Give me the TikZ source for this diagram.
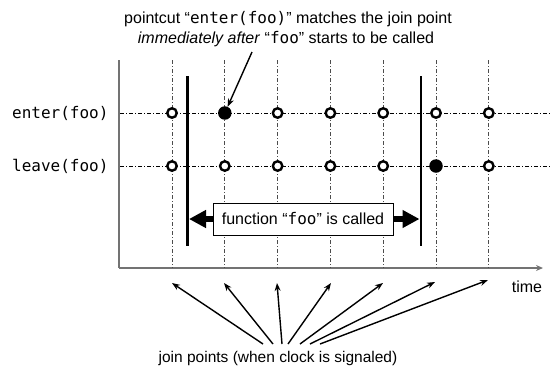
\documentclass[tikz,border=0pt]{standalone}
\usepackage{fontspec}
\setmainfont{Liberation Sans}
\setmonofont{DejaVu Sans Mono}
\usetikzlibrary{arrows.meta}

\tikzset{
  grid line/.style={line width=0.7pt, dash pattern=on 4pt off 2pt on 1pt off 2pt},
  vgrid/.style={grid line, black!70},
  hgrid/.style={grid line, black},
  axis line/.style={line width=1.4pt, black!55},
  bar/.style={line width=2.8pt, black},
  jp open/.style={circle, draw, line width=2.4pt, fill=white, minimum size=9.5pt, inner sep=0pt},
  jp filled/.style={circle, fill=black, minimum size=13.5pt, inner sep=0pt},
  pointer/.style={line width=1.4pt, -{Stealth[length=8pt,width=6pt]}},
  fat arrow/.style={line width=5.5pt, -{Triangle[length=17pt,width=17pt]}},
  textfont/.style={font=\fontsize{16}{20}\selectfont},
  rowlabel/.style={anchor=east, font=\fontsize{16}{19}\ttfamily},
}

\begin{document}
\begin{tikzpicture}[x=1pt,y=-1pt]
  \useasboundingbox (0,0) rectangle (550,365);

  % time axes
  \coordinate (ytop) at (119,60);
  \coordinate (origin) at (119,268);
  \coordinate (xend) at (543,268);
  \draw[axis line] (ytop) -- (origin);
  \draw[axis line, -{Stealth[length=7pt,width=6pt]}] (origin) -- (xend);
  \node[textfont, anchor=base] (time) at (527,292) {time};

  % clock ticks (vertical grid)
  \foreach \i/\x in {1/172,2/224.8,3/277.6,4/330.4,5/383.2,6/436,7/488.8} {
    \coordinate (v\i top) at (\x,60);
    \coordinate (v\i bot) at (\x,268);
    \draw[vgrid] (v\i top) -- (v\i bot);
  }

  % event rows
  \coordinate (enterL) at (120,113);
  \coordinate (enterR) at (550,113);
  \coordinate (leaveL) at (120,166);
  \coordinate (leaveR) at (550,166);
  \draw[hgrid] (enterL) -- (enterR);
  \draw[hgrid] (leaveL) -- (leaveR);

  \node[rowlabel] (enterlbl) at (112,113) {enter(foo)};
  \node[rowlabel] (leavelbl) at (112,166) {leave(foo)};

  % join points
  \foreach \i/\x in {1/172,2/224.8,3/277.6,4/330.4,5/383.2,6/436,7/488.8} {
    \ifnum\i=2
      \node[jp filled] (e\i) at (\x,113) {};
    \else
      \node[jp open] (e\i) at (\x,113) {};
    \fi
    \ifnum\i=6
      \node[jp filled] (l\i) at (\x,166) {};
    \else
      \node[jp open] (l\i) at (\x,166) {};
    \fi
  }

  % call boundaries
  \coordinate (b1top) at (187.5,76);
  \coordinate (b1bot) at (187.5,246);
  \coordinate (b2top) at (421,76);
  \coordinate (b2bot) at (421,246);
  \draw[bar] (b1top) -- (b1bot);
  \draw[bar] (b2top) -- (b2bot);

  % function call span
  \node[draw, line width=0.8pt, fill=white, minimum height=32pt, minimum width=180pt,
        inner sep=0pt, textfont] (call) at (303,219)
        {function “\texttt{foo}” is called};
  \coordinate (callL) at (189,219);
  \coordinate (callR) at (419.5,219);
  \draw[fat arrow] (call.west) -- (callL);
  \draw[fat arrow] (call.east) -- (callR);

  % pointcut annotation
  \node[textfont, anchor=base] (pc1) at (288,23)
    {pointcut “\texttt{enter(foo)}” matches the join point};
  \node[textfont, anchor=base] (pc2) at (286,43)
    {\textit{immediately after} “\texttt{foo}” starts to be called};
  \coordinate (pcfoot) at (252,52);
  \draw[pointer] (pcfoot) -- (e2);

  % join point legend
  \node[font=\fontsize{15.5}{19}\selectfont, anchor=base] (jp) at (278,362)
    {join points (when clock is signaled)};
  \foreach \i/\tx/\hx/\hy in {1/263/172/283,2/273/224/283,3/282/277/283,
                              4/288/331/283,5/300/383/283,6/310/435/282,7/320/488/280} {
    \coordinate (t\i) at (\tx,344);
    \coordinate (h\i) at (\hx,\hy);
    \draw[pointer] (t\i) -- (h\i);
  }
\end{tikzpicture}
\end{document}
